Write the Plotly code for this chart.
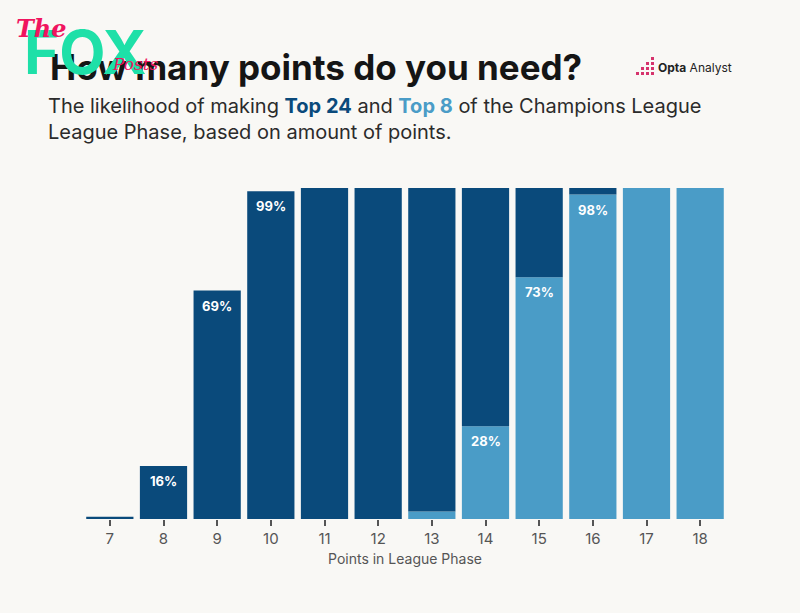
import plotly.graph_objects as go

points = [7, 8, 9, 10, 11, 12, 13, 14, 15, 16, 17, 18]
top24 = [0.7, 16, 69, 99, 100, 100, 100, 100, 100, 100, 100, 100]
top8 = [0, 0, 0, 0, 0, 0, 2.3, 28, 73, 98, 100, 100]
top24_labels = {8: "16%", 9: "69%", 10: "99%"}
top8_labels = {14: "28%", 15: "73%", 16: "98%"}

DARK = "#0a4a7b"
LIGHT = "#4a9cc7"
BG = "#f9f8f5"

dark_part = [a - b for a, b in zip(top24, top8)]

fig = go.Figure()
fig.add_trace(go.Bar(x=points, y=top8, marker=dict(color=LIGHT, line=dict(width=0)),
                     name="Top 8", hoverinfo="x+y"))
fig.add_trace(go.Bar(x=points, y=dark_part, base=top8,
                     marker=dict(color=DARK, line=dict(width=0)), name="Top 24"))

for p, t in top24_labels.items():
    fig.add_annotation(x=p, y=top24[points.index(p)], text=f"<b>{t}</b>", showarrow=False,
                       yanchor="top", yshift=-5, font=dict(family="Inter", size=13, color="white"))
for p, t in top8_labels.items():
    fig.add_annotation(x=p, y=top8[points.index(p)], text=f"<b>{t}</b>", showarrow=False,
                       yanchor="top", yshift=-5, font=dict(family="Inter", size=13, color="white"))

PX = lambda x: (x - 83) / 644
PY = lambda y: (519 - y) / 331

# Title and subtitle
fig.add_annotation(xref="paper", yref="paper", x=PX(48), y=PY(67), xanchor="left", yanchor="middle",
                   text="<b>How many points do you need?</b>", showarrow=False,
                   font=dict(family="Inter", size=35, color="#151515"))
fig.add_annotation(xref="paper", yref="paper", x=PX(46), y=PY(119), xanchor="left", yanchor="middle",
                   align="left", showarrow=False,
                   text=("The likelihood of making <b><span style='color:%s'>Top 24</span></b> and "
                         "<b><span style='color:%s'>Top 8</span></b> of the Champions League<br>"
                         "League Phase, based on amount of points.") % (DARK, LIGHT),
                   font=dict(family="Inter", size=20, color="#2b2b2b"))

# Opta Analyst logo
fig.add_annotation(xref="paper", yref="paper", x=PX(656), y=PY(67), xanchor="left", yanchor="middle",
                   showarrow=False,
                   text="<b>Opta</b> Analyst", font=dict(family="Inter", size=12, color="#222"))
for (dx, dy) in [(0, 0), (5, 0), (10, 0), (15, 0), (5, 5), (10, 5), (15, 5), (10, 10), (15, 10), (15, 15)]:
    x0 = 636 + dx
    y0 = 75 - dy
    fig.add_shape(type="rect", xref="paper", yref="paper",
                  x0=PX(x0), x1=PX(x0 + 3), y0=PY(y0), y1=PY(y0 - 3),
                  fillcolor="#d6336c", line=dict(width=0))

# Watermark
fig.add_annotation(xref="paper", yref="paper", x=PX(22), y=PY(52), xanchor="left", yanchor="middle",
                   showarrow=False,
                   text="<b>FOX</b>", font=dict(family="Inter", size=60, color="#1ee0a8"))
fig.add_annotation(xref="paper", yref="paper", x=PX(14), y=PY(28), xanchor="left", yanchor="middle",
                   showarrow=False,
                   text="<i><b>The</b></i>", font=dict(family="DejaVu Serif", size=24, color="#f0145f"))
fig.add_annotation(xref="paper", yref="paper", x=PX(110), y=PY(64), xanchor="left", yanchor="middle",
                   showarrow=False,
                   text="<i>Posts</i>", font=dict(family="DejaVu Serif", size=17, color="#f0145f"))

fig.update_layout(
    width=800, height=613,
    paper_bgcolor=BG, plot_bgcolor=BG,
    barmode="overlay", bargap=0.12,
    showlegend=False,
    margin=dict(l=83, r=73, t=188, b=94),
    xaxis=dict(tickmode="array", tickvals=points, ticktext=[str(p) for p in points],
               range=[6.5, 18.5], showgrid=False, zeroline=False, showline=False,
               ticks="outside", ticklen=6, tickcolor="#555", tickwidth=1.5,
               tickfont=dict(family="Inter", size=15, color="#555"),
               title=dict(text="Points in League Phase", standoff=7,
                          font=dict(family="Inter", size=14, color="#555"))),
    yaxis=dict(range=[0, 100], visible=False),
)

fig.write_html("out.html", config={"displayModeBar": False},
               post_script="document.body.style.margin='0';document.body.style.background='%s';" % BG)
